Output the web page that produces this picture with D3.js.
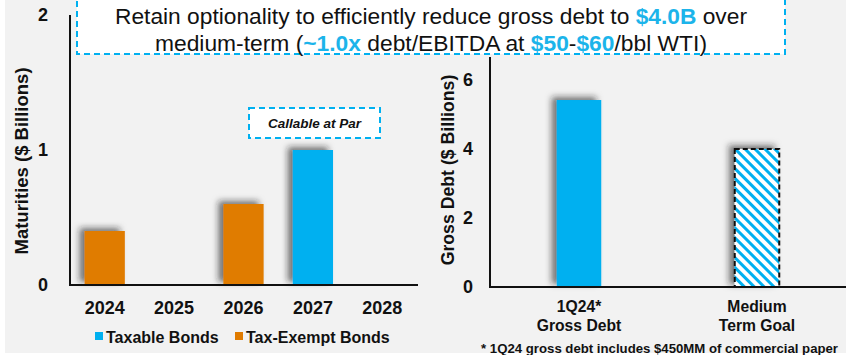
<!DOCTYPE html>
<html><head><meta charset="utf-8">
<script src="https://cdn.jsdelivr.net/npm/d3@7"></script>
<style>
body{margin:0;background:#fff;}
svg{display:block;font-family:"Liberation Sans",Arial,sans-serif;}
</style></head>
<body><svg id="c" width="846" height="355"></svg>
<script>
// ---- data ----
const years = ["2024","2025","2026","2027","2028"];
const taxable = [0, 0, 0, 1.0, 0];
const taxExempt = [0.4, 0, 0.6, 0, 0];
const leftTicks = [0, 1, 2];
const debtCats = [["1Q24*","Gross Debt"],["Medium","Term Goal"]];
const debtVals = [5.42, 4.0];
const rightTicks = [0, 2, 4, 6];
const legendLabels = ["Taxable Bonds","Tax-Exempt Bonds"];

const BLUE = "#00b0f0", ORANGE = "#e07b00", TXTBLUE = "#1cb4ea", INK = "#111";
const svg = d3.select("#c");
const defs = svg.append("defs");
const f = defs.append("filter").attr("id","sh").attr("x","-50%").attr("y","-50%").attr("width","200%").attr("height","200%");
f.append("feDropShadow").attr("dx",-5).attr("dy",-3).attr("stdDeviation",3).attr("flood-color","#222").attr("flood-opacity",0.6);
const pat = defs.append("pattern").attr("id","hatch").attr("patternUnits","userSpaceOnUse")
  .attr("width",7).attr("height",7).attr("patternTransform","rotate(-45)");
pat.append("rect").attr("width",7).attr("height",7).attr("fill","#fff");
pat.append("rect").attr("x",0).attr("y",0).attr("width",3).attr("height",7).attr("fill",BLUE);

svg.append("rect").attr("x",5).attr("y",0).attr("width",841).attr("height",353).attr("fill","#f2f2f2");

function styleTicks(g, fs){
  g.select(".domain").remove();
  g.selectAll("text").attr("font-size",fs).attr("font-weight","bold").attr("fill",INK).attr("font-family","Liberation Sans, Arial");
}

// ---- left chart ----
const xL = d3.scaleBand().domain(years).range([70,417]).paddingInner(0.42).paddingOuter(0.21);
const yL = d3.scaleLinear().domain([0,2]).range([285,15]);
const gL = svg.append("g");
const barsL = [];
years.forEach((y,i)=>{
  if (taxExempt[i]>0) barsL.push({y, v:taxExempt[i], c:ORANGE});
  if (taxable[i]>0) barsL.push({y, v:taxable[i], c:BLUE});
});
gL.selectAll("rect.b").data(barsL).join("rect").attr("class","b")
  .attr("x",d=>xL(d.y)).attr("width",xL.bandwidth())
  .attr("y",d=>yL(d.v)).attr("height",d=>yL(0)-yL(d.v))
  .attr("fill",d=>d.c).attr("filter","url(#sh)");
styleTicks(gL.append("g").attr("transform","translate(70,0)")
  .call(d3.axisLeft(yL).tickValues(leftTicks).tickSize(0).tickPadding(22).tickFormat(d3.format("d"))), 18);
gL.append("line").attr("x1",70).attr("x2",70).attr("y1",yL(2)).attr("y2",yL(0)+1).attr("stroke",INK).attr("stroke-width",2);
styleTicks(gL.append("g").attr("transform","translate(0,285)")
  .call(d3.axisBottom(xL).tickSize(0).tickPadding(16)), 18);
gL.append("line").attr("x1",69).attr("x2",418).attr("y1",285).attr("y2",285).attr("stroke",INK).attr("stroke-width",2);
gL.append("text").attr("transform","translate(28,161) rotate(-90)").attr("text-anchor","middle")
  .attr("font-size",18.5).attr("font-weight","bold").attr("fill",INK).text("Maturities ($ Billions)");
// callable box
gL.append("rect").attr("x",249).attr("y",108).attr("width",131).attr("height",30)
  .attr("fill","#fff").attr("stroke",BLUE).attr("stroke-width",2).attr("stroke-dasharray","6,4");
gL.append("text").attr("x",314.5).attr("y",128).attr("text-anchor","middle").attr("font-size",13.5)
  .attr("font-weight","bold").attr("font-style","italic").attr("fill",INK).text("Callable at Par");
// legend
const legX = [95, 235], legC = [BLUE, ORANGE];
legendLabels.forEach((l,i)=>{
  svg.append("rect").attr("x",legX[i]).attr("y",332).attr("width",8).attr("height",8).attr("fill",legC[i]);
  svg.append("text").attr("x",legX[i]+11).attr("y",342.5).attr("font-size",16).attr("font-weight","bold").attr("fill",INK).text(l);
});

// ---- right chart ----
const xR = d3.scaleBand().domain(debtCats.map(d=>d.join(" "))).range([490,846]).paddingInner(0.75).paddingOuter(0.375);
const yR = d3.scaleLinear().domain([0,6]).range([287,80]);
const gR = svg.append("g");
gR.selectAll("rect.b").data(debtVals).join("rect").attr("class","b")
  .attr("x",(d,i)=>xR(debtCats[i].join(" "))).attr("width",xR.bandwidth())
  .attr("y",d=>yR(d)).attr("height",d=>yR(0)-yR(d))
  .attr("fill",(d,i)=>i===0?BLUE:"url(#hatch)").attr("filter","url(#sh)")
  .attr("stroke",(d,i)=>i===0?"none":INK).attr("stroke-width",2).attr("stroke-dasharray","5,3");
styleTicks(gR.append("g").attr("transform","translate(490,0)")
  .call(d3.axisLeft(yR).tickValues(rightTicks).tickSize(0).tickPadding(17).tickFormat(d3.format("d"))), 18);
gR.append("line").attr("x1",490).attr("x2",490).attr("y1",57).attr("y2",288).attr("stroke",INK).attr("stroke-width",2);
gR.append("line").attr("x1",489).attr("x2",846).attr("y1",287).attr("y2",287).attr("stroke",INK).attr("stroke-width",2);
debtCats.forEach((c,i)=>{
  const cx = xR(c.join(" "))+xR.bandwidth()/2;
  c.forEach((t,j)=>{
    gR.append("text").attr("x",cx).attr("y",312+j*19).attr("text-anchor","middle").attr("font-size",15.7)
      .attr("font-weight","bold").attr("fill",INK).text(t);
  });
});
gR.append("text").attr("transform","translate(454,170) rotate(-90)").attr("text-anchor","middle")
  .attr("font-size",17.7).attr("font-weight","bold").attr("fill",INK).text("Gross Debt ($ Billions)");
svg.append("text").attr("x",838).attr("y",353).attr("text-anchor","end").attr("font-size",13.2)
  .attr("font-weight","bold").attr("fill",INK).text("* 1Q24 gross debt includes $450MM of commercial paper");

// ---- title box ----
svg.append("rect").attr("x",77).attr("y",-3).attr("width",708).attr("height",57)
  .attr("fill","#fff").attr("stroke",BLUE).attr("stroke-width",2).attr("stroke-dasharray","6,4");
const lines = [
  [["Retain optionality to efficiently reduce gross debt to ",0],["$4.0B",1],[" over",0]],
  [["medium-term (",0],["~1.0x",1],[" debt/EBITDA at ",0],["$50",1],["-",0],["$60",1],["/bbl WTI)",0]]
];
const lineW = [632, 552];
lines.forEach((ln,i)=>{
  const t = svg.append("text").attr("x",431).attr("y",24+i*26.5).attr("text-anchor","middle")
    .attr("font-size",22).attr("fill",INK).attr("textLength",lineW[i]).attr("lengthAdjust","spacingAndGlyphs");
  ln.forEach(([s,b])=>{
    t.append("tspan").text(s).attr("fill",b?TXTBLUE:INK).attr("font-weight",b?"bold":"normal");
  });
});
</script></body></html>
